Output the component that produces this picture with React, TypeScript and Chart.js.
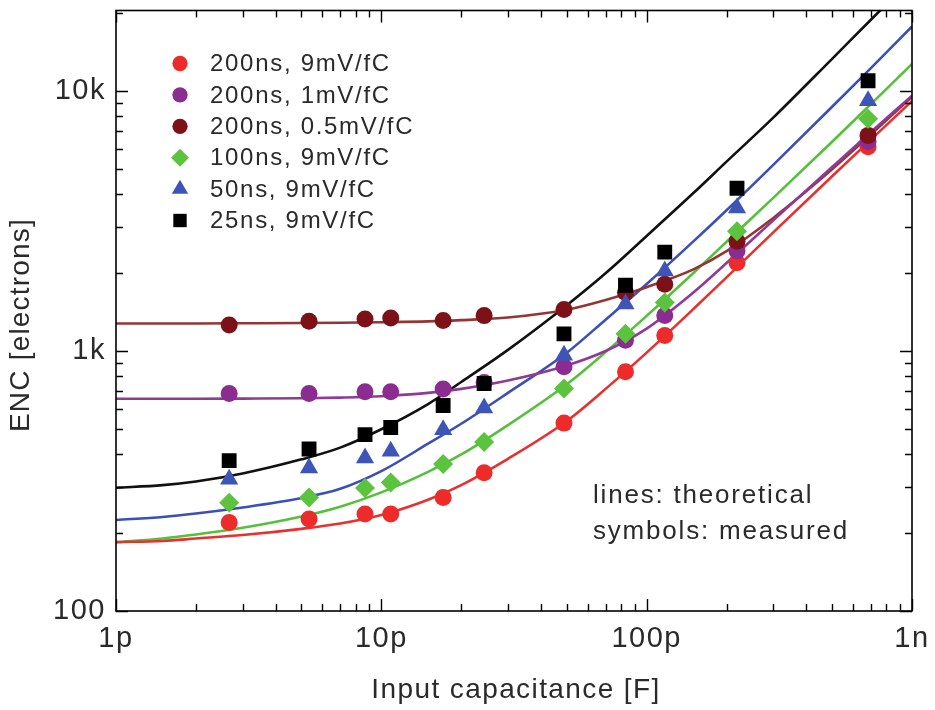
import React, { useEffect, useRef } from 'react';
import { Chart, registerables } from 'chart.js';
import { drawPoint } from 'chart.js/helpers';

Chart.register(...registerables);

const FONT = '"Liberation Sans", Arial, Helvetica, sans-serif';

// Axis ticks
const xTickValues = [1, 10, 100, 1000]; // pF
const xTickLabels = ['1p', '10p', '100p', '1n'];
const yTickValues = [100, 1000, 10000];
const yTickLabels = ['100', '1k', '10k'];
const xTitle = 'Input capacitance [F]';
const yTitle = 'ENC [electrons]';
const noteLines = ['lines: theoretical', 'symbols: measured'];

// Series names (legend)
const seriesNames = [
  '200ns, 9mV/fC',
  '200ns, 1mV/fC',
  '200ns, 0.5mV/fC',
  '100ns, 9mV/fC',
  '50ns, 9mV/fC',
  '25ns, 9mV/fC',
];

// Measured input capacitances (pF)
const measuredC = [2.67, 5.34, 8.68, 10.85, 17.1, 24.4, 48.8, 83.2, 117, 219, 683];

// Measured ENC (electrons)
const measRed = [219, 226, 236, 236, 273, 340, 528, 832, 1148, 2187, 6100];
const measPurple = [687, 687, 697, 697, 714, 757, 869, 1099, 1369, 2423, 6400];
const measBrown = [1260, 1302, 1328, 1340, 1309, 1368, 1443, 1680, 1807, 2645, 6750];
const measGreen = [261, 273, 297, 312, 368, 447, 718, 1164, 1538, 2888, 7816];
const measBlue = [321, 355, 388, 412, 498, 603, 963, 1515, 2032, 3545, 9183];
const measBlack = [379, 420, 477, 508, 617, 750, 1164, 1790, 2402, 4227, 10950];

// Theoretical curves
const theoryC = [1, 1.5, 2, 3, 5, 7, 10, 15, 20, 30, 50, 70, 100, 150, 200, 300, 500, 700, 1000];
const lineRed = [184, 186, 190, 196, 207, 217, 234, 268, 305, 385, 538, 715, 986, 1450, 1920, 2860, 4700, 6500, 9150];
const linePurple = [655, 655, 655, 656, 658, 662, 670, 690, 715, 770, 880, 1000, 1220, 1680, 2180, 3180, 5100, 6950, 9600];
const lineBrown = [1275, 1275, 1276, 1278, 1281, 1284, 1290, 1300, 1315, 1345, 1440, 1570, 1760, 2060, 2420, 3250, 5000, 6800, 9500];
const lineGreen = [184, 190, 197, 209, 231, 252, 286, 343, 400, 519, 745, 990, 1365, 1995, 2630, 3880, 6380, 8900, 12700];
const lineBlue = [224, 230, 237, 250, 272, 295, 345, 440, 525, 690, 985, 1320, 1810, 2640, 3480, 5200, 8700, 12250, 17700];
const lineBlack = [298, 305, 315, 338, 383, 425, 500, 625, 760, 1010, 1500, 1990, 2770, 4050, 5350, 7900, 13300, 18800, 27000];

const measured = [measRed, measPurple, measBrown, measGreen, measBlue, measBlack];
const lines = [lineRed, linePurple, lineBrown, lineGreen, lineBlue, lineBlack];

// Styles
const markerColors = ['#ee2b2b', '#8a2c90', '#7c1218', '#5cc33e', '#3d55b6', '#000000'];
const lineColors = ['#e8302e', '#903a98', '#953434', '#55c03a', '#3a4fb8', '#111111'];
const pointStyles = ['circle', 'circle', 'circle', 'rectRot', 'triangle', 'rect'];
const pointRadii = [8.5, 8.5, 8.5, 10, 10.5, 10.5];

const Y_MAX = 20400;

const decorPlugin = {
  id: 'decor',
  beforeDraw(chart: any) {
    chart.ctx.letterSpacing = '1.5px';
  },
  afterDatasetsDraw(chart: any) {
    const { ctx, chartArea: a, scales } = chart;
    const xs = scales.x;
    const ys = scales.y;
    ctx.save();
    ctx.strokeStyle = '#000';
    ctx.lineWidth = 1.6;
    ctx.strokeRect(a.left, a.top, a.right - a.left, a.bottom - a.top);

    const MAJ = 12;
    const MIN = 7;
    ctx.lineWidth = 1.4;
    ctx.beginPath();
    for (let d = 1; d <= 1000; d *= 10) {
      for (let m = 1; m <= 9; m++) {
        const v = d * m;
        if (v > 1000) break;
        const px = Math.round(xs.getPixelForValue(v)) + 0.5;
        const len = m === 1 ? MAJ : MIN;
        ctx.moveTo(px, a.bottom);
        ctx.lineTo(px, a.bottom - len);
        ctx.moveTo(px, a.top);
        ctx.lineTo(px, a.top + len);
      }
    }
    for (let d = 100; d <= 10000; d *= 10) {
      for (let m = 1; m <= 9; m++) {
        const v = d * m;
        if (v > Y_MAX) break;
        const py = Math.round(ys.getPixelForValue(v)) + 0.5;
        const len = m === 1 ? MAJ : MIN;
        ctx.moveTo(a.left, py);
        ctx.lineTo(a.left + len, py);
        ctx.moveTo(a.right, py);
        ctx.lineTo(a.right - len, py);
      }
    }
    ctx.stroke();

    // Legend
    const lx = a.left + 64;
    const tx = a.left + 94;
    const ly0 = a.top + 53;
    const dy = 31.4;
    ctx.font = `24px ${FONT}`;
    ctx.letterSpacing = '1.7px';
    ctx.textBaseline = 'middle';
    ctx.textAlign = 'left';
    seriesNames.forEach((name, i) => {
      const y = ly0 + i * dy;
      ctx.fillStyle = markerColors[i];
      drawPoint(ctx, { pointStyle: pointStyles[i], radius: pointRadii[i] * 0.9, rotation: 0, borderWidth: 0 }, lx, y);
      ctx.fillStyle = '#2a2a2a';
      ctx.fillText(name, tx, y + 1);
    });

    // Note
    ctx.font = `26px ${FONT}`;
    ctx.letterSpacing = '1.8px';
    ctx.fillStyle = '#2a2a2a';
    ctx.fillText(noteLines[0], 593, 496);
    ctx.fillText(noteLines[1], 593, 532);

    // Axis titles
    ctx.font = `28px ${FONT}`;
    ctx.letterSpacing = '1.4px';
    ctx.textAlign = 'center';
    ctx.fillText(xTitle, (a.left + a.right) / 2 + 2, 690);
    ctx.save();
    ctx.translate(21, 325);
    ctx.rotate(-Math.PI / 2);
    ctx.letterSpacing = '1.2px';
    ctx.fillText(yTitle, 0, 0);
    ctx.restore();

    ctx.restore();
  },
};

export default function App() {
  const ref = useRef<HTMLCanvasElement>(null);
  useEffect(() => {
    if (!ref.current) return;
    const datasets: any[] = [];
    measured.forEach((vals, i) => {
      datasets.push({
        label: seriesNames[i],
        data: measuredC.map((c, j) => ({ x: c, y: vals[j] })),
        showLine: false,
        pointStyle: pointStyles[i],
        pointRadius: pointRadii[i],
        pointBackgroundColor: markerColors[i],
        pointBorderWidth: 0,
        order: 6 - i,
      });
    });
    lines.forEach((vals, i) => {
      datasets.push({
        label: seriesNames[i] + ' (theory)',
        data: theoryC.map((c, j) => ({ x: c, y: vals[j] })),
        showLine: true,
        borderColor: lineColors[i],
        borderWidth: 2.6,
        pointRadius: 0,
        cubicInterpolationMode: 'monotone',
        clip: 0,
        order: 20,
      });
    });

    const chart = new Chart(ref.current, {
      type: 'scatter',
      data: { datasets },
      options: {
        animation: false,
        responsive: true,
        maintainAspectRatio: false,
        layout: { padding: { top: 7, right: 23, left: 0, bottom: 0 } },
        plugins: { legend: { display: false }, tooltip: { enabled: false } },
        scales: {
          x: {
            type: 'logarithmic',
            min: 1,
            max: 1000,
            afterBuildTicks: (s: any) => {
              s.ticks = xTickValues.map((v) => ({ value: v }));
            },
            afterFit: (s: any) => {
              s.height = 99;
              s.paddingLeft = 0;
              s.paddingRight = 0;
            },
            grid: { display: false, drawTicks: false },
            border: { display: false },
            ticks: {
              autoSkip: false,
              maxRotation: 0,
              padding: 11,
              color: '#2a2a2a',
              font: { family: FONT, size: 29 },
              callback: (v: any) => {
                const i = xTickValues.indexOf(Number(v));
                return i >= 0 ? xTickLabels[i] : '';
              },
            },
          },
          y: {
            type: 'logarithmic',
            min: 100,
            max: Y_MAX,
            afterBuildTicks: (s: any) => {
              s.ticks = yTickValues.map((v) => ({ value: v }));
            },
            afterFit: (s: any) => {
              s.width = 116;
              s.paddingTop = 0;
              s.paddingBottom = 0;
            },
            grid: { display: false, drawTicks: false },
            border: { display: false },
            ticks: {
              autoSkip: false,
              padding: 10,
              color: '#2a2a2a',
              font: { family: FONT, size: 29 },
              callback: (v: any) => {
                const i = yTickValues.indexOf(Number(v));
                return i >= 0 ? yTickLabels[i] : '';
              },
            },
          },
        },
      },
      plugins: [decorPlugin],
    });
    return () => chart.destroy();
  }, []);

  return (
    <div style={{ position: 'fixed', left: 0, top: 0, width: 935, height: 710, background: '#fff' }}>
      <canvas ref={ref} />
    </div>
  );
}
